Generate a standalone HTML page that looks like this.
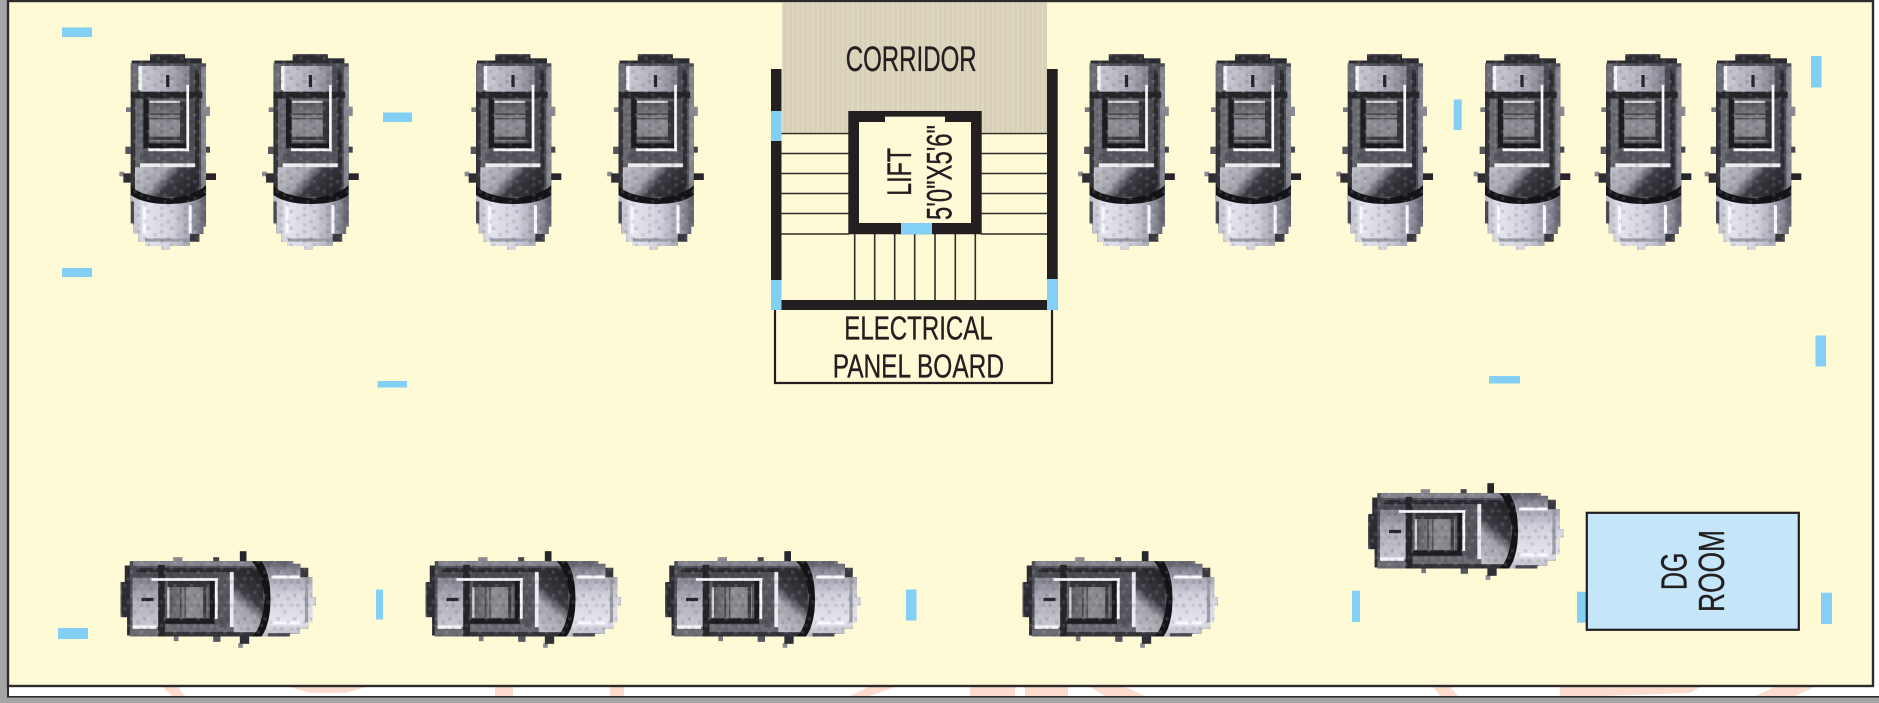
<!DOCTYPE html>
<html>
<head>
<meta charset="utf-8">
<style>
html,body{margin:0;padding:0;background:#fff}
svg{display:block}
text{font-family:"Liberation Sans",sans-serif;fill:#231f20;stroke:#231f20;stroke-width:.35}
</style>
</head>
<body>
<svg xmlns="http://www.w3.org/2000/svg" width="1879" height="703" viewBox="0 0 1879 703">
<defs>
<linearGradient id="deck" x1="0" x2="1" y1="0" y2="0"><stop offset="0" stop-color="#c8c8d2"/><stop offset=".6" stop-color="#acacb8"/><stop offset="1" stop-color="#80808c"/></linearGradient>
<linearGradient id="wind" x1="0" x2="1" y1="0.1" y2="0.5"><stop offset="0" stop-color="#c0c0c8"/><stop offset=".42" stop-color="#a0a0a8"/><stop offset=".62" stop-color="#3c3c44"/><stop offset="1" stop-color="#26262c"/></linearGradient>
<linearGradient id="hood" x1="0" x2="1" y1="0" y2="0"><stop offset="0" stop-color="#b8b8c4"/><stop offset=".2" stop-color="#e4e4ee"/><stop offset=".55" stop-color="#d0d0dc"/><stop offset=".8" stop-color="#a0a0ae"/><stop offset="1" stop-color="#5c5c68"/></linearGradient>
<linearGradient id="roof" x1="0" x2="0" y1="0" y2="1"><stop offset="0" stop-color="#606066"/><stop offset=".5" stop-color="#8c8c94"/><stop offset="1" stop-color="#84848a"/></linearGradient>
<pattern id="px" width="70" height="50" patternUnits="userSpaceOnUse">
  <rect x="0" y="0" width="10" height="10" fill="#000" opacity=".12"/>
  <rect x="30" y="0" width="10" height="10" fill="#fff" opacity=".12"/>
  <rect x="50" y="10" width="10" height="10" fill="#000" opacity=".10"/>
  <rect x="10" y="10" width="10" height="10" fill="#fff" opacity=".10"/>
  <rect x="40" y="20" width="10" height="10" fill="#fff" opacity=".10"/>
  <rect x="20" y="20" width="10" height="10" fill="#000" opacity=".10"/>
  <rect x="60" y="30" width="10" height="10" fill="#fff" opacity=".12"/>
  <rect x="0" y="30" width="10" height="10" fill="#000" opacity=".08"/>
  <rect x="30" y="40" width="10" height="10" fill="#000" opacity=".12"/>
  <rect x="10" y="40" width="10" height="10" fill="#fff" opacity=".10"/>
</pattern>
<pattern id="stripes" width="5" height="4" patternUnits="userSpaceOnUse">
  <rect width="5" height="4" fill="#d8d1b8"/>
  <rect x="2" width="1.5" height="4" fill="#dfd9c3"/>
</pattern>
<clipPath id="bodyclip"><path d="M180 72H285V85H335V100H348V590H340V612H328V635H300V648H240V658H215V648H165V635H145V610H130V580H122V100H125V92H180Z"/></clipPath>
<g id="car" transform="scale(.33333) translate(-233,-363)">
  <path d="M180 72H285V85H335V100H348V590H340V612H328V635H300V648H240V658H215V648H165V635H145V610H130V580H122V100H125V92H180Z" fill="#505058"/>
  <rect x="88" y="425" width="14" height="14" fill="#8a8a90"/>
  <rect x="100" y="430" width="34" height="28" fill="#2e2e34"/>
  <rect x="335" y="430" width="43" height="20" fill="#26262a"/>
  <rect x="106" y="350" width="20" height="22" fill="#55555c"/>
  <rect x="342" y="350" width="18" height="18" fill="#44444a"/>
  <rect x="108" y="232" width="18" height="14" fill="#77777e"/>
  <rect x="342" y="230" width="18" height="28" fill="#8a8a90"/>
  <g clip-path="url(#bodyclip)">
    <rect x="122" y="100" width="34" height="420" fill="#6c6c74"/>
    <rect x="300" y="100" width="48" height="420" fill="#4c4c54"/>
    <rect x="333" y="110" width="15" height="400" fill="#858590"/>
    <rect x="112" y="185" width="24" height="320" fill="#34343a"/>
    <rect x="315" y="120" width="12" height="380" fill="#2a2a30"/>
    <rect x="150" y="108" width="148" height="78" fill="url(#deck)"/>
    <rect x="145" y="108" width="10" height="72" fill="#f4f4f8"/>
    <rect x="122" y="76" width="226" height="24" fill="#2c2c32"/>
    <rect x="228" y="135" width="10" height="36" fill="#26262a"/>
    <rect x="122" y="185" width="215" height="20" fill="#26262a"/>
    <rect x="155" y="205" width="135" height="160" fill="#5a5a62"/>
    <rect x="160" y="205" width="16" height="150" fill="#1e1e22"/>
    <rect x="270" y="215" width="20" height="130" fill="#34343a"/>
    <rect x="176" y="340" width="114" height="15" fill="#1a1a1e"/>
    <rect x="178" y="225" width="92" height="108" fill="url(#roof)"/>
    <rect x="178" y="212" width="92" height="7" fill="#d0d0d4"/>
    <rect x="178" y="250" width="92" height="5" fill="#4a4a50"/>
    <rect x="178" y="264" width="92" height="4" fill="#505056"/>
    <rect x="178" y="320" width="92" height="10" fill="#3a3a40"/>
    <rect x="289" y="165" width="8" height="200" fill="#f8f8fa"/>
    <rect x="175" y="355" width="122" height="9" fill="#f8f8fa"/>
    <rect x="150" y="364" width="165" height="36" fill="#55555e"/>
    <rect x="150" y="400" width="165" height="12" fill="#ececf0"/>
    <rect x="135" y="412" width="190" height="88" fill="url(#wind)"/>
    <path d="M122 465Q140 495 235 505Q320 495 348 465L348 495Q320 522 235 522Q140 522 122 495Z" fill="#141418"/>
    <path d="M122 495Q160 522 235 522Q310 522 348 495L348 660L122 660Z" fill="url(#hood)"/>
    <rect x="158" y="525" width="9" height="85" fill="#f8f8fc"/>
    <rect x="296" y="525" width="9" height="85" fill="#f8f8fc"/>
    <rect x="122" y="515" width="10" height="70" fill="#4a4a54"/>
    <rect x="165" y="625" width="170" height="10" fill="#9a9aa6"/>
    <rect x="300" y="612" width="30" height="24" fill="#3a3a40"/>
    <rect x="122" y="72" width="226" height="590" fill="url(#px)"/>
  </g>
</g>
</defs>

<rect width="1879" height="703" fill="#fff"/>
<rect x="0" y="0" width="7" height="703" fill="#a5a5a8"/>
<rect x="0" y="697" width="1879" height="6" fill="#a5a5a8"/>

<!-- watermark fragments in the white band -->
<g fill="#fbdccf">
  <polygon points="163,687 178,687 185,696 172,696"/>
  <polygon points="290,687 366,687 345,693 310,693"/>
  <polygon points="495,687 513,687 513,696 495,696"/>
  <polygon points="610,687 624,687 624,696 610,696"/>
  <polygon points="850,696 870,696 895,687 868,687"/>
  <polygon points="970,687 1015,687 1015,696 970,696"/>
  <polygon points="1025,687 1068,687 1068,696 1025,696"/>
  <polygon points="1090,687 1125,687 1145,696 1105,696"/>
  <polygon points="1433,687 1450,687 1458,696 1440,696"/>
  <polygon points="1560,687 1700,687 1690,693 1600,696 1560,696"/>
  <polygon points="1755,696 1795,696 1815,687 1775,687"/>
</g>

<!-- plan background and frame -->
<rect x="8" y="1" width="1865" height="685" fill="#fffad6" stroke="#2b2b2b" stroke-width="2.4"/>
<rect x="7" y="696" width="1872" height="1.6" fill="#2b2b2b"/>
<rect x="7" y="686" width="2" height="11" fill="#2b2b2b"/>

<!-- corridor -->
<rect x="782" y="2.5" width="265" height="130" fill="url(#stripes)"/>

<!-- stairs lines -->
<g stroke="#2f2d2a" stroke-width="1.6">
  <path d="M781 133.5H849M781 153.5H849M781 173.5H849M781 193.5H849M781 213.5H849M781 234H849"/>
  <path d="M981 133.5H1047M981 153.5H1047M981 173.5H1047M981 193.5H1047M981 213.5H1047M981 234H1047"/>
  <path d="M854.7 234V300M874.7 234V300M894.7 234V300M914.7 234V300M935 234V300M955.3 234V300M975.3 234V300"/>
</g>

<!-- walls -->
<g fill="#231f20">
  <rect x="771" y="69" width="10.5" height="241"/>
  <rect x="1047" y="69" width="10.7" height="241"/>
  <rect x="781" y="300" width="266" height="10"/>
  <path fill-rule="evenodd" d="M848.3 111H981.7V234.3H848.3ZM859 122V223H971V122H945V116.7H885V122Z"/>
</g>
<rect x="885" y="116.7" width="60" height="6" fill="#fffad6"/>
<rect x="859" y="122" width="112" height="101" fill="#fffad6"/>

<!-- panel board box -->
<path d="M775 310V383H1052V310" fill="none" stroke="#231f20" stroke-width="2.2"/>

<!-- blue openings on walls -->
<g fill="#82d0f5">
  <rect x="771" y="111" width="10.5" height="30"/>
  <rect x="771" y="280" width="10.5" height="30"/>
  <rect x="1047" y="279" width="10.7" height="31"/>
  <rect x="901" y="223" width="31" height="11.3"/>
  <rect x="62" y="27.5" width="30" height="9.5"/>
  <rect x="383" y="112.5" width="29" height="9.5"/>
  <rect x="62" y="268" width="30" height="9"/>
  <rect x="377.5" y="381" width="29.5" height="6.5"/>
  <rect x="1489" y="376" width="31" height="7.5"/>
  <rect x="1811" y="56" width="10.5" height="31.5"/>
  <rect x="1453.7" y="99.5" width="8" height="30.5"/>
  <rect x="1815.5" y="335.5" width="10.5" height="31"/>
  <rect x="58" y="628" width="30" height="11"/>
  <rect x="376" y="589.5" width="7" height="30"/>
  <rect x="906" y="589.5" width="10.5" height="31"/>
  <rect x="1352" y="590.7" width="8" height="31.3"/>
  <rect x="1577" y="591.7" width="9" height="31"/>
  <rect x="1821" y="592.7" width="11" height="31.3"/>
</g>

<!-- cars, top row -->
<use href="#car" transform="translate(167.7,151)"/>
<use href="#car" transform="translate(310.4,151)"/>
<use href="#car" transform="translate(513,151)"/>
<use href="#car" transform="translate(655.5,151)"/>
<use href="#car" transform="translate(1126.5,151)"/>
<use href="#car" transform="translate(1252.7,151)"/>
<use href="#car" transform="translate(1384.7,151)"/>
<use href="#car" transform="translate(1522,151)"/>
<use href="#car" transform="translate(1643,151)"/>
<use href="#car" transform="translate(1753,151)"/>

<!-- cars, bottom row -->
<use href="#car" transform="translate(217.5,599.5) rotate(-90)"/>
<use href="#car" transform="translate(522.5,599.5) rotate(-90)"/>
<use href="#car" transform="translate(762,599.5) rotate(-90)"/>
<use href="#car" transform="translate(1119.5,599.5) rotate(-90)"/>
<use href="#car" transform="translate(1465,531.5) rotate(-90)"/>

<!-- DG room -->
<rect x="1586.8" y="512.8" width="212" height="117" fill="#c4e6f8" stroke="#231f20" stroke-width="2.2"/>

<!-- labels -->
<text x="845.7" y="71" font-size="35" textLength="131" lengthAdjust="spacingAndGlyphs">CORRIDOR</text>
<text x="844.3" y="339.3" font-size="33" textLength="148.4" lengthAdjust="spacingAndGlyphs">ELECTRICAL</text>
<text x="832.7" y="377.7" font-size="33" textLength="171.3" lengthAdjust="spacingAndGlyphs">PANEL BOARD</text>
<text transform="translate(911,195.7) rotate(-90)" font-size="34.4" textLength="47.7" lengthAdjust="spacingAndGlyphs">LIFT</text>
<text transform="translate(951.7,220) rotate(-90)" font-size="35" textLength="95" lengthAdjust="spacingAndGlyphs">5'0"X5'6"</text>
<text transform="translate(1686.4,590) rotate(-90)" font-size="36" textLength="37.3" lengthAdjust="spacingAndGlyphs">DG</text>
<text transform="translate(1724,612) rotate(-90)" font-size="36" textLength="82" lengthAdjust="spacingAndGlyphs">ROOM</text>
</svg>
</body>
</html>
